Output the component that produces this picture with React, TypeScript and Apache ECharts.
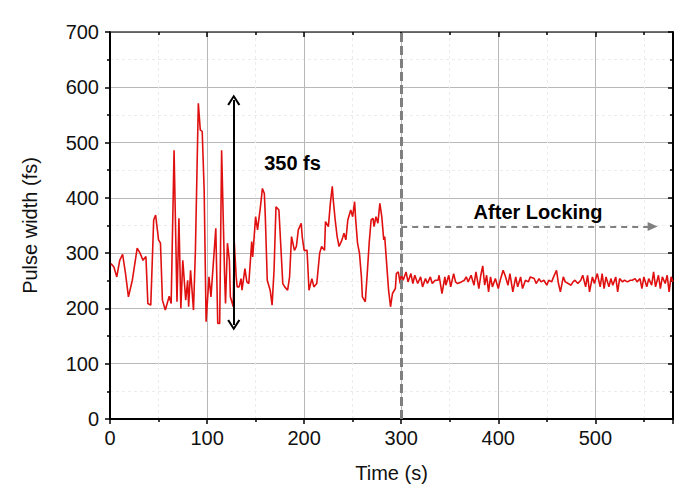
import React, { useEffect, useRef } from "react";
import * as echarts from "echarts";

// Time (s) and pulse width (fs)
const timeS: number[] = [
  1, 4, 7, 10, 13, 16, 19, 23, 28, 31, 34, 37, 39, 42, 45, 47, 50, 52, 54, 57,
  61, 63, 66, 69, 71, 73, 75, 78, 80, 81, 83, 86, 88, 91, 93, 95, 97, 99, 102, 104,
  109, 111, 113, 115, 118, 119, 121, 123, 124, 127, 128, 130, 131, 133, 135, 136, 139, 141, 143, 146,
  147, 150, 152, 155, 157, 159, 160, 162, 165, 167, 169, 171, 174, 176, 178, 180, 183, 185, 187, 190,
  192, 194, 197, 198, 200, 203, 205, 208, 210, 213, 216, 218, 221, 222, 225, 227, 229, 230, 232, 234,
  236, 239, 241, 243, 245, 248, 250, 252, 253, 255, 257, 259, 260, 263, 265, 267, 269, 271, 272, 274,
  276, 278, 280, 282, 283, 285, 287, 289, 291, 294, 295, 297, 299,
  300, 302, 305, 307, 310, 312, 314, 317, 320, 322, 325, 327, 330, 332, 335, 338, 339, 342, 345, 346,
  349, 351, 354, 356, 358, 362, 365, 367, 369, 372, 375, 377, 380, 382, 384, 386, 388, 390, 392, 394,
  397, 400, 402, 405, 407, 410, 412, 415, 418, 420, 423, 425, 428, 431, 433, 437, 439, 442, 444, 447,
  450, 452, 455, 457, 460, 462, 464, 467, 469, 472, 475, 477, 479, 482, 485, 487, 490, 492, 494, 497,
  499, 502, 505, 507, 509, 511, 514, 516, 518, 521, 523, 525, 528, 530, 533, 536, 538, 541, 543, 546,
  548, 550, 553, 555, 558, 560, 562, 565, 567, 569, 572, 574, 576, 578, 580,
];
const pulseWidthFs: number[] = [
  281, 275, 257, 287, 298, 263, 221, 251, 309, 300, 287, 294, 209, 206, 360, 369, 324, 318, 215, 197,
  222, 209, 486, 212, 363, 200, 287, 215, 251, 203, 269, 197, 305, 571, 523, 520, 414, 176, 257, 221,
  345, 173, 173, 486, 263, 209, 318, 287, 221, 203, 321, 257, 239, 239, 254, 233, 272, 248, 245, 321,
  293, 366, 342, 384, 417, 408, 366, 251, 233, 206, 269, 384, 378, 312, 245, 239, 233, 257, 330, 305,
  312, 342, 354, 330, 305, 305, 233, 254, 239, 245, 300, 312, 305, 357, 348, 390, 421, 396, 360, 330,
  312, 324, 336, 324, 360, 378, 366, 393, 363, 318, 300, 257, 221, 212, 263, 318, 360, 363, 348, 366,
  354, 390, 366, 324, 330, 281, 233, 203, 227, 236, 263, 266, 245,
  263, 251, 266, 248, 263, 245, 260, 245, 257, 239, 254, 245, 257, 245, 251, 251, 260, 227, 257, 242,
  260, 239, 263, 248, 245, 248, 251, 257, 248, 260, 242, 266, 236, 260, 277, 242, 260, 230, 257, 239,
  254, 236, 251, 269, 260, 242, 263, 230, 257, 239, 257, 236, 251, 248, 257, 254, 245, 254, 248, 251,
  242, 251, 248, 257, 269, 245, 230, 257, 248, 245, 242, 248, 251, 245, 251, 260, 239, 260, 230, 257,
  245, 263, 239, 263, 236, 257, 239, 254, 242, 257, 230, 254, 248, 251, 248, 251, 251, 254, 248, 254,
  236, 257, 239, 254, 242, 266, 239, 260, 236, 257, 245, 260, 230, 257, 248,
];

const xTicks = [0, 100, 200, 300, 400, 500];
const yTicks = [0, 100, 200, 300, 400, 500, 600, 700];

const lockTime = 300;
const rangeArrow = { t: 127.5, from: 577, to: 170, label: "350 fs", labelT: 188, labelV: 463 };
const afterArrow = { from: 300, to: 559, v: 348, label: "After Locking", labelT: 441, labelV: 374 };

const chevron = "path://M0,10 L5,0 L10,10 L8.6,11 L5,3.6 L1.4,11 Z";

export default function App() {
  const ref = useRef<HTMLDivElement>(null);
  useEffect(() => {
    if (!ref.current) return;
    const chart = echarts.init(ref.current, undefined, { renderer: "svg" });
    const font = "'Liberation Sans', Arial, sans-serif";
    const data = timeS.map((t, i) => [t, pulseWidthFs[i]]);
    const xMin = xTicks[0];
    const yMin = yTicks[0];
    const yMax = yTicks[yTicks.length - 1];
    const tickStyle = { color: "#000", width: 1.5 };
    chart.setOption({
      animation: false,
      backgroundColor: "#ffffff",
      grid: { left: 110, right: 19, top: 32, bottom: 72, show: false },
      xAxis: [
        {
          type: "value",
          min: xMin,
          max: 580,
          interval: 100,
          name: "Time (s)",
          nameLocation: "middle",
          nameGap: 44,
          nameTextStyle: { fontFamily: font, fontSize: 20, color: "#111" },
          axisLine: { show: true, onZero: false, lineStyle: { color: "#000", width: 2 } },
          axisTick: { show: true, inside: false, length: 5, lineStyle: tickStyle },
          minorTick: { show: true, splitNumber: 2, length: 3, lineStyle: tickStyle },
          axisLabel: { fontFamily: font, fontSize: 20, color: "#111", margin: 9, showMaxLabel: false },
          splitLine: { show: true, lineStyle: { color: "#b8b8b8", width: 1 } },
          minorSplitLine: { show: true, lineStyle: { color: "#ececec", width: 1, type: [3, 3] } },
        },
        {
          type: "value",
          position: "top",
          min: xMin,
          max: 580,
          interval: 100,
          axisLine: { show: true, onZero: false, lineStyle: { color: "#444", width: 1.5 } },
          axisTick: { show: true, inside: true, length: 5, lineStyle: tickStyle },
          minorTick: { show: true, splitNumber: 2, length: 3, lineStyle: tickStyle },
          axisLabel: { show: false },
          splitLine: { show: false },
        },
      ],
      yAxis: [
        {
          type: "value",
          min: yMin,
          max: yMax,
          interval: 100,
          name: "Pulse width (fs)",
          nameLocation: "middle",
          nameGap: 70,
          nameTextStyle: { fontFamily: font, fontSize: 20, color: "#111" },
          axisLine: { show: true, onZero: false, lineStyle: { color: "#000", width: 2 } },
          axisTick: { show: true, inside: false, length: 5, lineStyle: tickStyle },
          minorTick: { show: true, splitNumber: 2, length: 3, lineStyle: tickStyle },
          axisLabel: { fontFamily: font, fontSize: 20, color: "#111", margin: 11 },
          splitLine: { show: true, lineStyle: { color: "#b8b8b8", width: 1 } },
          minorSplitLine: { show: true, lineStyle: { color: "#ececec", width: 1, type: [3, 3] } },
        },
        {
          type: "value",
          position: "right",
          min: yMin,
          max: yMax,
          interval: 100,
          axisLine: { show: true, onZero: false, lineStyle: { color: "#000", width: 2 } },
          axisTick: { show: true, inside: true, length: 5, lineStyle: tickStyle },
          minorTick: { show: true, splitNumber: 2, length: 3, lineStyle: tickStyle },
          axisLabel: { show: false },
          splitLine: { show: false },
        },
      ],
      series: [
        {
          type: "line",
          data,
          xAxisIndex: 0,
          yAxisIndex: 0,
          showSymbol: false,
          symbol: "none",
          clip: true,
          lineStyle: { color: "#e01010", width: 1.6 },
          silent: true,
          markLine: {
            silent: true,
            animation: false,
            label: { show: false },
            emphasis: { disabled: true },
            data: [
              [
                { coord: [lockTime, yMin], symbol: "none", lineStyle: { color: "#7f7f7f", width: 3, type: [9, 4] } },
                { coord: [lockTime, yMax], symbol: "none" },
              ],
              [
                {
                  coord: [rangeArrow.t, rangeArrow.from],
                  symbol: chevron,
                  symbolSize: [13, 11],
                  lineStyle: { color: "#000", width: 2, type: "solid" },
                },
                { coord: [rangeArrow.t, rangeArrow.to], symbol: chevron, symbolSize: [13, 11] },
              ],
              [
                {
                  coord: [afterArrow.from, afterArrow.v],
                  symbol: "none",
                  lineStyle: { color: "#808080", width: 2, type: [6, 5] },
                },
                { coord: [afterArrow.to, afterArrow.v], symbol: "triangle", symbolSize: [9, 10] },
              ],
            ],
          },
        },
      ],
    });
    const toPx = (t: number, v: number) => chart.convertToPixel({ gridIndex: 0 }, [t, v]) as number[];
    const p1 = toPx(rangeArrow.labelT, rangeArrow.labelV);
    const p2 = toPx(afterArrow.labelT, afterArrow.labelV);
    chart.setOption({
      graphic: [
        {
          type: "text",
          x: p1[0],
          y: p1[1],
          style: {
            text: rangeArrow.label,
            font: `bold 20px ${font}`,
            fill: "#000",
            align: "center",
            verticalAlign: "middle",
          },
        },
        {
          type: "text",
          x: p2[0],
          y: p2[1],
          style: {
            text: afterArrow.label,
            font: `bold 20px ${font}`,
            fill: "#000",
            align: "center",
            verticalAlign: "middle",
          },
        },
      ],
    });
    return () => chart.dispose();
  }, []);
  return (
    <div
      ref={ref}
      style={{ position: "fixed", left: 0, top: 0, width: 692, height: 491, background: "#fff" }}
    />
  );
}
